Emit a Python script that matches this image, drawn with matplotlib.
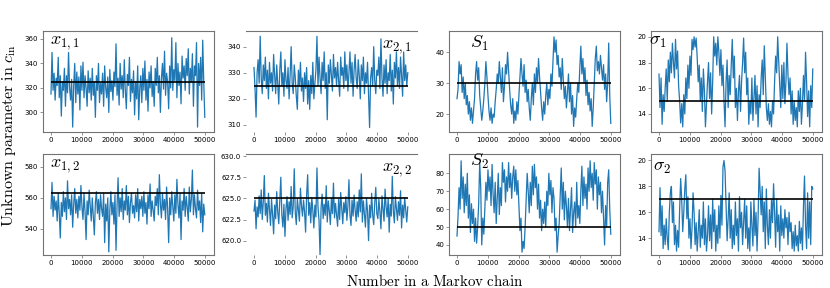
import numpy as np
import matplotlib
matplotlib.use("Agg")
import matplotlib.pyplot as plt

plt.rcParams['mathtext.fontset'] = 'cm'
plt.rcParams['font.family'] = ['DejaVu Sans']

# ---- data (150 samples per chain, iterations 0..50000) ----
x11 = [315, 349, 318, 332, 310, 328, 322, 345, 312, 330,
       297, 325, 318, 336, 305, 330, 316, 349, 320, 310,
       327, 288, 322, 340, 308, 333, 315, 329, 302, 338,
       318, 341, 312, 330, 320, 305, 334, 316, 328, 310,
       336, 314, 325, 296, 330, 318, 340, 308, 324, 315,
       332, 305, 338, 320, 312, 329, 300, 335, 317, 326,
       310, 333, 321, 356, 314, 328, 306, 340, 319, 330,
       312, 343, 318, 303, 331, 322, 345, 309, 327, 316,
       334, 298, 325, 311, 338, 294, 320, 330, 308, 336,
       318, 342, 310, 327, 301, 333, 320, 338, 313, 325,
       305, 336, 322, 345, 316, 330, 300, 328, 340, 319,
       350, 314, 332, 325, 303, 338, 320, 361, 318, 335,
       326, 357, 312, 340, 322, 333, 307, 346, 328, 338,
       318, 344, 330, 352, 315, 336, 325, 348, 305, 338,
       330, 357, 288, 340, 322, 345, 310, 359, 325, 296]

x21 = [332, 324, 313, 330, 335, 326, 344, 328, 322, 333,
       327, 336, 324, 331, 320, 334, 326, 330, 323, 337,
       329, 322, 333, 326, 318, 331, 338, 325, 330, 321,
       335, 327, 324, 332, 320, 329, 340, 326, 322, 333,
       328, 321, 316, 331, 325, 334, 323, 328, 319, 330,
       324, 332, 318, 327, 316, 329, 322, 334, 320, 326,
       331, 344, 325, 336, 328, 322, 334, 327, 338, 324,
       330, 312, 333, 326, 335, 329, 323, 337, 328, 332,
       325, 334, 327, 321, 336, 329, 332, 324, 338, 327,
       333, 323, 330, 338, 326, 334, 321, 331, 337, 328,
       324, 335, 329, 320, 333, 327, 336, 322, 330, 326,
       334, 321, 309, 328, 332, 325, 340, 327, 322, 331,
       329, 336, 324, 343, 328, 321, 333, 326, 335, 322,
       330, 327, 337, 323, 331, 318, 334, 328, 338, 325,
       332, 324, 336, 329, 321, 338, 327, 333, 325, 330]

s1 = [25, 28, 37, 33, 36, 27, 32, 25, 30, 23,
      26, 20, 24, 18, 22, 17, 21, 25, 33, 37,
      31, 35, 26, 22, 18, 21, 25, 30, 37, 32,
      26, 21, 18, 22, 17, 20, 19, 24, 28, 33,
      30, 37, 32, 27, 35, 24, 29, 36, 33, 40,
      34, 28, 23, 20, 25, 17, 21, 18, 24, 20,
      26, 32, 38, 33, 29, 36, 27, 31, 24, 28,
      22, 18, 25, 30, 23, 33, 27, 35, 30, 38,
      32, 27, 22, 18, 24, 20, 26, 30, 23, 28,
      25, 33, 29, 37, 45, 40, 44, 36, 39, 32,
      35, 28, 38, 31, 25, 29, 22, 27, 33, 24,
      30, 20, 26, 16, 22, 19, 25, 30, 27, 35,
      42, 33, 38, 30, 35, 26, 31, 23, 27, 21,
      25, 16, 22, 30, 38, 42, 34, 37, 33, 39,
      35, 31, 36, 28, 33, 24, 30, 43, 26, 17]

sig1 = [17.1, 14.5, 16.8, 13.2, 15.5, 14.2, 16.0, 17.5, 15.0, 18.2,
        16.5, 18.8, 17.2, 19.5, 18.0, 16.8, 19.8, 17.5, 18.9, 16.2,
        15.0, 13.3, 14.8, 13.0, 15.5, 14.0, 16.8, 15.2, 17.8, 16.0,
        18.5, 17.0, 19.8, 19.0, 20.0, 19.2, 19.9, 18.4, 16.5, 17.8,
        15.0, 16.8, 14.2, 17.5, 15.8, 13.0, 14.8, 16.5, 18.0, 15.2,
        17.2, 14.0, 16.5, 20.0, 18.5, 19.5, 17.8, 20.0, 18.8, 17.0,
        19.0, 16.2, 17.8, 15.0, 13.0, 16.5, 18.2, 14.5, 17.0, 15.5,
        17.8, 19.8, 16.8, 18.5, 14.5, 16.0, 13.5, 15.8, 17.0, 14.2,
        16.5, 18.0, 19.9, 17.2, 18.8, 15.5, 16.8, 13.2, 15.0, 14.0,
        16.8, 13.5, 15.2, 17.0, 14.0, 16.2, 13.0, 15.5, 14.5, 16.8,
        18.2, 15.5, 19.3, 17.0, 14.5, 13.5, 14.8, 13.2, 14.2, 13.0,
        15.0, 14.0, 16.5, 18.5, 17.2, 20.0, 18.0, 16.2, 14.5, 17.8,
        15.2, 18.0, 14.8, 16.5, 19.5, 17.0, 15.5, 16.8, 14.0, 15.8,
        13.2, 15.0, 13.5, 14.5, 13.0, 15.8, 14.2, 16.0, 13.2, 14.8,
        17.0, 15.0, 18.8, 16.5, 13.8, 15.8, 13.0, 16.2, 14.5, 17.5]

x12 = [553, 570, 548, 561, 552, 558, 545, 563, 550, 534,
       557, 548, 564, 551, 560, 546, 571, 553, 559, 549,
       562, 541, 556, 566, 550, 559, 547, 561, 552, 568,
       554, 546, 563, 551, 533, 558, 549, 565, 555, 545,
       560, 548, 536, 557, 564, 550, 559, 546, 562, 553,
       548, 563, 531, 556, 545, 560, 525, 552, 564, 549,
       557, 543, 562, 526, 555, 573, 548, 560, 551, 566,
       546, 558, 552, 568, 549, 561, 544, 557, 563, 550,
       555, 547, 562, 551, 566, 545, 559, 553, 561, 548,
       564, 550, 557, 543, 562, 553, 569, 548, 558, 552,
       545, 561, 555, 566, 549, 575, 556, 547, 563, 552,
       559, 546, 567, 553, 531, 560, 549, 564, 554, 545,
       562, 550, 572, 556, 547, 563, 533, 558, 552, 566,
       548, 561, 554, 545, 567, 551, 559, 578, 549, 562,
       553, 547, 565, 552, 558, 544, 563, 538, 556, 549]

x22 = [623.5, 624.8, 621.4, 624.0, 622.8, 625.3, 623.2, 626.0, 622.5, 624.6,
       627.7, 623.0, 624.4, 622.2, 625.6, 623.6, 621.8, 624.9, 623.1, 620.8,
       624.2, 622.6, 625.8, 623.4, 622.0, 624.7, 627.5, 623.0, 621.6, 624.3,
       620.5, 623.8, 625.2, 622.4, 624.6, 623.1, 626.4, 622.7, 624.0, 628.5,
       623.3, 621.9, 625.0, 623.7, 622.3, 626.2, 624.1, 622.9, 624.8, 623.4,
       621.0, 625.4, 627.8, 623.0, 624.5, 622.1, 625.1, 623.6, 621.5, 624.2,
       622.8, 628.6, 624.0, 622.4, 618.3, 623.9, 625.5, 622.6, 624.3, 623.0,
       626.5, 622.2, 624.7, 623.5, 621.9, 625.0, 623.2, 626.8, 622.7, 624.4,
       623.1, 621.7, 624.9, 622.5, 625.7, 623.8, 622.0, 624.5, 623.3, 625.2,
       622.4, 624.1, 627.2, 623.0, 621.8, 624.8, 622.9, 625.4, 623.6, 622.3,
       624.6, 622.8, 626.0, 623.4, 627.9, 622.2, 624.7, 623.1, 621.6, 625.0,
       623.5, 620.0, 624.2, 622.7, 625.6, 623.0, 621.9, 624.5, 626.3, 623.2,
       622.6, 624.9, 623.4, 621.4, 625.3, 623.7, 622.3, 626.1, 624.0, 622.8,
       625.0, 621.0, 624.3, 622.9, 627.6, 623.5, 622.1, 625.2, 623.8, 622.4,
       624.6, 623.0, 625.9, 621.5, 624.2, 622.7, 625.1, 623.6, 622.2, 624.0]

s2 = [45, 56, 72, 60, 87, 66, 78, 58, 74, 62,
      80, 55, 68, 47, 63, 52, 60, 42, 55, 41,
      50, 63, 86, 72, 40, 55, 46, 60, 75, 65,
      82, 70, 78, 62, 85, 68, 58, 75, 52, 66,
      80, 57, 72, 62, 86, 75, 82, 64, 78, 70,
      86, 72, 80, 66, 78, 84, 70, 82, 68, 76,
      62, 48, 55, 36, 42, 38, 50, 65, 80, 70,
      58, 75, 62, 84, 68, 85, 72, 78, 60, 74,
      55, 65, 48, 60, 52, 64, 50, 70, 62, 80,
      68, 76, 58, 72, 66, 48, 55, 36, 45, 52,
      68, 83, 60, 75, 54, 70, 62, 50, 66, 48,
      60, 72, 47, 58, 64, 50, 75, 55, 62, 52,
      70, 84, 62, 78, 66, 74, 60, 83, 70, 87,
      72, 80, 65, 86, 74, 82, 60, 78, 68, 75,
      58, 70, 55, 40, 62, 50, 75, 82, 60, 46]

sig2 = [14.5, 17.9, 14.2, 16.5, 13.2, 15.0, 13.5, 15.5, 14.0, 13.1,
        16.0, 17.5, 18.0, 15.2, 16.8, 13.5, 15.0, 13.0, 14.6, 13.3,
        16.2, 18.6, 17.0, 14.5, 16.0, 17.8, 18.9, 15.5, 17.2, 14.0,
        15.5, 13.2, 14.8, 17.5, 16.0, 13.5, 15.2, 13.0, 14.5, 16.2,
        13.3, 15.0, 14.0, 16.8, 13.5, 15.5, 13.0, 14.2, 16.5, 13.8,
        15.8, 13.2, 17.0, 14.5, 16.2, 13.0, 15.0, 13.6, 16.5, 14.0,
        17.3, 15.0, 19.5, 20.0, 19.2, 16.5, 13.8, 15.5, 17.5, 14.0,
        16.2, 13.2, 15.0, 13.5, 16.8, 14.2, 15.5, 13.0, 17.2, 14.8,
        16.0, 13.5, 15.2, 17.0, 14.0, 16.5, 13.2, 14.8, 13.0, 16.8,
        15.0, 13.4, 17.0, 14.2, 16.0, 13.0, 15.5, 19.4, 17.5, 15.8,
        18.0, 14.5, 16.8, 13.2, 17.8, 15.0, 13.5, 16.2, 14.0, 17.0,
        15.2, 18.2, 16.0, 13.3, 17.0, 14.5, 15.8, 13.0, 16.5, 14.2,
        15.5, 14.0, 16.2, 14.8, 15.6, 13.5, 16.0, 14.5, 15.2, 13.2,
        14.5, 13.0, 15.0, 13.4, 14.2, 13.0, 15.3, 13.6, 14.8, 13.1,
        16.5, 18.8, 15.0, 13.2, 17.5, 14.0, 16.8, 13.5, 18.0, 17.8]

n_iter = 50000
chains = [x11, x21, s1, sig1, x12, x22, s2, sig2]
true_values = [325, 325, 30, 15, 563, 625, 50, 17]
panel_names = [r'$x_{1,1}$', r'$x_{2,1}$', r'$S_1$', r'$\sigma_1$',
               r'$x_{1,2}$', r'$x_{2,2}$', r'$S_2$', r'$\sigma_2$']
ylims = [(284, 366.5), (307.3, 346), (14.2, 46.9), (12.6, 20.45),
         (523, 588.4), (618.3, 630.25), (34.4, 90.8), (12.7, 20.5)]
yticks = [[300, 320, 340, 360], [310, 320, 330, 340], [20, 30, 40], [14, 16, 18, 20],
          [540, 560, 580], [620.0, 622.5, 625.0, 627.5, 630.0], [40, 50, 60, 70, 80], [14, 16, 18, 20]]
xticks = [0, 10000, 20000, 30000, 40000, 50000]
ylabel = r'$\mathrm{Unknown\ parameter\ in\ }c_{\mathrm{in}}$'
xlabel = r'$\mathrm{Number\ in\ a\ Markov\ chain}$'

# ---- layout ----
W, H = 830, 288
fig = plt.figure(figsize=(W / 100, H / 100), dpi=100)
col_left = [43, 246, 449, 651]
row_top = [31, 154]
ax_w, ax_h = 171, 101

label_pos = [  # (x, y, ha, va) in axes coords
    (0.04, 0.97, 'left', 'top'), (0.97, 0.93, 'right', 'top'),
    (0.12, 0.97, 'left', 'top'), (-0.01, 0.99, 'left', 'top'),
    (0.04, 0.97, 'left', 'top'), (0.97, 0.93, 'right', 'top'),
    (0.12, 1.02, 'left', 'top'), (0.01, 0.96, 'left', 'top'),
]

for i, chain in enumerate(chains):
    r, c = divmod(i, 4)
    left = col_left[c] / W
    bottom = 1 - (row_top[r] + ax_h) / H
    ax = fig.add_axes([left, bottom, ax_w / W, ax_h / H])
    it = np.linspace(0, n_iter, len(chain))
    ax.plot(it, chain, color='#1f77b4', lw=0.9)
    ax.hlines(true_values[i], 0, n_iter, color='black', lw=1.2, zorder=3)
    ax.set_xlim(-2600, 53000)
    ax.set_ylim(*ylims[i])
    ax.set_xticks(xticks)
    ax.set_xticklabels([str(v) for v in xticks])
    ax.set_yticks(yticks[i])
    if c == 1 and r == 1:
        ax.set_yticklabels(['%.1f' % v for v in yticks[i]])
    ax.tick_params(labelsize=5, length=2, width=0.5, color='0.4', pad=1.5)
    for s in ax.spines.values():
        s.set_color('0.45')
        s.set_linewidth(0.8)
    if c == 1:
        for s in ['left', 'right', 'bottom']:
            ax.spines[s].set_visible(False)
    px, py, ha, va = label_pos[i]
    ax.text(px, py, panel_names[i], transform=ax.transAxes, ha=ha, va=va,
            fontsize=13, zorder=5)

fig.text(0.011, 0.53, ylabel, rotation=90, ha='center', va='center', fontsize=11.5)
fig.text(0.524, 0.025, xlabel, ha='center', va='center', fontsize=10.8)

fig.savefig('out.png', dpi=100)
